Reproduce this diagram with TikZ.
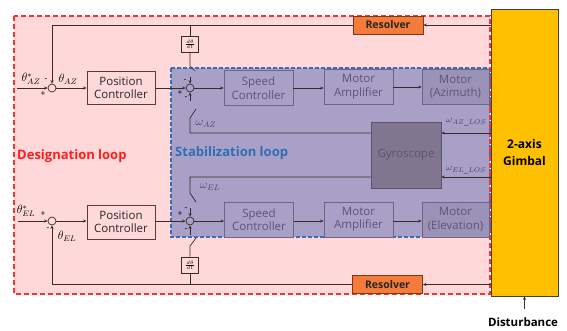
\documentclass[tikz,border=0pt]{standalone}
\usepackage{fontspec}
\setmainfont{Open Sans}
\usetikzlibrary{arrows.meta}
\definecolor{pinkbg}{HTML}{FFD9DA}
\definecolor{redln}{HTML}{FF2F2F}
\definecolor{lav}{HTML}{A9A0C7}
\definecolor{blueln}{HTML}{3B6DB0}
\definecolor{stabedge}{HTML}{6E6486}
\definecolor{stabtext}{HTML}{5E5475}
\definecolor{gyrofill}{HTML}{807690}
\definecolor{gyroedge}{HTML}{5C526C}
\definecolor{resfill}{HTML}{F47B3A}
\definecolor{resedge}{HTML}{7A3A1A}
\definecolor{gimfill}{HTML}{FFC000}
\definecolor{linec}{HTML}{3C2A2A}
\definecolor{boxedge}{HTML}{5A3C3C}
\definecolor{labred}{HTML}{FF1E1E}
\definecolor{labblue}{HTML}{2F6EB5}
\definecolor{omegac}{HTML}{4A4260}
\begin{document}
\begin{tikzpicture}[x=1pt,y=-1pt,
  conn/.style={draw=linec,line width=0.7pt},
  arr/.style={conn,-{Stealth[length=3.5pt,width=3pt]}},
  boxfont/.style={font=\fontsize{11.5}{13.5}\selectfont},
  pcbox/.style={boxfont,draw=boxedge,fill=pinkbg,line width=0.9pt,minimum width=68pt,minimum height=33pt,inner sep=0pt,align=center,text=black!85},
  stbox/.style={boxfont,draw=stabedge,fill=lav,line width=0.8pt,minimum width=69pt,minimum height=35pt,inner sep=0pt,align=center,text=stabtext},
  resbox/.style={font=\bfseries\fontsize{10.5}{12}\selectfont,draw=resedge,fill=resfill,line width=0.8pt,minimum width=70pt,minimum height=18pt,inner sep=0pt,text=black!85},
  ddtbox/.style={draw=linec,fill=pinkbg,line width=0.7pt,minimum width=17pt,minimum height=16pt,inner sep=0pt,font=\fontsize{4.5}{5}\selectfont},
  sumpt/.style={circle,draw=linec,line width=0.7pt,minimum size=8pt,inner sep=0pt},
  sgn/.style={font=\fontsize{8.5}{9}\selectfont,inner sep=0pt},
  omlab/.style={text=omegac,inner sep=0pt,font=\fontsize{11.5}{13}\selectfont},
]
\path[use as bounding box] (0,0) rectangle (567,330);

% designation loop area
\fill[pinkbg] (14,16) rectangle (490,294);
% gimbal
\node[draw=black!75,fill=gimfill,line width=0.8pt,minimum width=67pt,minimum height=287pt,inner sep=0pt,align=center,font=\bfseries\fontsize{12}{17.5}\selectfont] (gimbal) at (524.5,152.5) {2-axis\\Gimbal};
% stabilization loop area
\path[fill=lav,draw=blueln,line width=1.1pt,dash pattern=on 4pt off 2pt] (171,68) rectangle (490,237);
\draw[redln,line width=1.2pt,dash pattern=on 5pt off 3pt] (14,16) rectangle (490,294);

% loop titles
\node[anchor=west,text=labred,font=\bfseries\fontsize{13}{15}\selectfont,inner sep=0pt] (dlab) at (17,156) {Designation loop};
\node[anchor=west,text=labblue,font=\bfseries\fontsize{13}{15}\selectfont,inner sep=0pt] (slab) at (175,153) {Stabilization loop};

% azimuth channel
\node[sumpt,fill=pinkbg] (oaz) at (52,88) {};
\node[pcbox] (pcaz) at (121,88) {Position\\Controller};
\node[sumpt,fill=lav] (iaz) at (190,88) {};
\node[stbox] (scaz) at (258.5,88) {Speed\\Controller};
\node[stbox] (maaz) at (358.5,87) {Motor\\Amplifier};
\node[stbox,minimum width=67pt,fill=lav!92!black] (moaz) at (455.5,87) {Motor\\(Azimuth)};

% elevation channel
\node[sumpt,fill=pinkbg] (oel) at (52,221) {};
\node[pcbox,minimum height=34pt] (pcel) at (121,222) {Position\\Controller};
\node[sumpt,fill=lav] (iel) at (190,221) {};
\node[stbox] (scel) at (259,219.5) {Speed\\Controller};
\node[stbox] (mael) at (358.5,219.5) {Motor\\Amplifier};
\node[stbox,minimum width=67pt,fill=lav!92!black] (moel) at (455.5,219.5) {Motor\\(Elevation)};

% gyroscope and resolvers
\node[draw=gyroedge,fill=gyrofill,line width=0.8pt,minimum width=70pt,minimum height=66pt,inner sep=0pt,text=omegac!90,boxfont] (gyro) at (406,155) {Gyroscope};
\node[resbox] (resaz) at (388,25) {Resolver};
\node[resbox] (resel) at (387.5,284.5) {Resolver};

% derivative blocks
\node[ddtbox] (ddtaz) at (190,44) {$\frac{d\theta}{dt}$};
\node[ddtbox] (ddtel) at (190,265) {$\frac{d\theta}{dt}$};

% helper points
\coordinate (inaz) at (17,88);
\coordinate (inel) at (18,221);
\coordinate (tapaz) at (190,25);
\coordinate (tapel) at (190,284.5);
\coordinate (swa1) at (190,66);
\coordinate (swa1t) at (190,77);
\coordinate (swa2) at (190,118);
\coordinate (swa2t) at (190,101);
\coordinate (gya) at (190,133);
\coordinate (swe1) at (190,193);
\coordinate (swe1t) at (190,208);
\coordinate (swe2) at (190,246);
\coordinate (swe2t) at (190,235);
\coordinate (gye) at (190,177);
\coordinate (dist) at (524.5,309);

% forward paths, azimuth
\draw[arr] (inaz) -- (oaz);
\draw[arr] (oaz) -- (pcaz);
\draw[arr] (pcaz) -- (iaz);
\draw[arr] (iaz) -- (scaz.west |- iaz);
\draw[arr] (scaz) -- (maaz.west |- scaz);
\draw[arr] (maaz) -- (moaz);

% forward paths, elevation
\draw[arr] (inel) -- (oel);
\draw[arr] (oel) -- (pcel.west |- oel);
\draw[arr] (pcel.east |- iel) -- (iel);
\draw[arr] (iel) -- (scel.west |- iel);
\draw[arr] (scel.east |- iel) -- (mael.west |- iel);
\draw[arr] (mael.east |- iel) -- (moel.west |- iel);

% resolver feedback
\draw[arr] (gimbal.west |- resaz) -- (resaz);
\draw[arr] (resaz) -| (oaz);
\draw[arr] (gimbal.west |- resel) -- (resel);
\draw[arr] (resel) -| (oel);

% rate feedback from the resolver angle
\draw[conn] (tapaz) -- (ddtaz);
\draw[conn] (ddtaz) -- (swa1) -- ++(5,5);
\draw[arr] (swa1t) -- (iaz);
\draw[conn] (tapel) -- (ddtel);
\draw[conn] (ddtel) -- (swe2) -- ++(6,-8);
\draw[arr] (swe2t) -- (iel);

% gyro feedback
\draw[arr] (gimbal.west |- gya) -- (gyro.east |- gya);
\draw[arr] (gimbal.west |- gye) -- (gyro.east |- gye);
\draw[conn] (gyro.west |- gya) -- (gya) -- (swa2) -- ++(6,-9);
\draw[arr] (swa2t) -- (iaz);
\draw[conn] (gyro.west |- gye) -- (gye) -- (swe1) -- ++(6,9);
\draw[arr] (swe1t) -- (iel);

% disturbance
\draw[arr] (dist) -- (gimbal);
\node[font=\bfseries\fontsize{11.5}{13}\selectfont,inner sep=0pt] (dlabel) at (523,322) {Disturbance};

% signal labels
\node[inner sep=0pt,font=\fontsize{12}{14}\selectfont] (thazr) at (31,79) {$\theta^{*}_{AZ}$};
\node[inner sep=0pt,font=\fontsize{12}{14}\selectfont] (thaz) at (68,79) {$\theta_{AZ}$};
\node[inner sep=0pt,font=\fontsize{12}{14}\selectfont] (thelr) at (26,211) {$\theta^{*}_{EL}$};
\node[inner sep=0pt,font=\fontsize{12}{14}\selectfont] (thel) at (67,236) {$\theta_{EL}$};
\node[omlab] (omaz) at (206,124) {$\omega_{AZ}$};
\node[omlab] (omel) at (210,187) {$\omega_{EL}$};
\node[omlab,font=\fontsize{10}{12}\selectfont] (omazl) at (466,122) {$\omega_{AZ\_LOS}$};
\node[omlab,font=\fontsize{10}{12}\selectfont] (omell) at (466,170) {$\omega_{EL\_LOS}$};

% summing signs
\node[sgn] (s1) at (46,80) {-};
\node[sgn] (s2) at (43,94) {+};
\node[sgn] (s3) at (43,214) {+};
\node[sgn] (s4) at (48,229) {-};
\node[sgn] (s5) at (185,81) {-};
\node[sgn] (s6) at (180,93) {+};
\node[sgn] (s7) at (186,98) {-};
\node[sgn] (s8) at (186,209) {-};
\node[sgn] (s9) at (180,214) {+};
\node[sgn] (s10) at (186,230) {-};
\end{tikzpicture}
\end{document}
